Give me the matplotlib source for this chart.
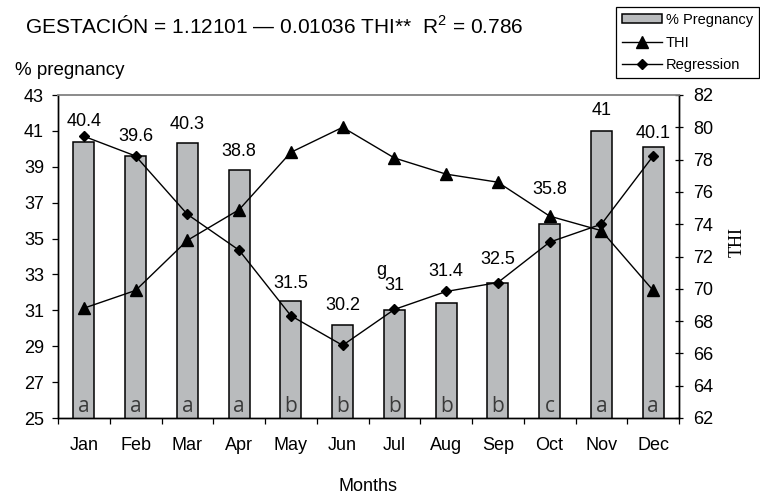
import matplotlib
matplotlib.use("Agg")
import matplotlib.pyplot as plt
import numpy as np

plt.rcParams['font.family'] = ['Liberation Sans', 'DejaVu Sans']
plt.rcParams['mathtext.fontset'] = 'custom'
plt.rcParams['mathtext.rm'] = 'Liberation Sans'
plt.rcParams['mathtext.it'] = 'Liberation Sans'

months = ['Jan', 'Feb', 'Mar', 'Apr', 'May', 'Jun', 'Jul', 'Aug', 'Sep', 'Oct', 'Nov', 'Dec']
pregnancy = [40.4, 39.6, 40.3, 38.8, 31.5, 30.2, 31.0, 31.4, 32.5, 35.8, 41.0, 40.1]
pregnancy_labels = ['40.4', '39.6', '40.3', '38.8', '31.5', '30.2', '31', '31.4', '32.5', '35.8', '41', '40.1']
thi = [68.8, 69.9, 73.0, 74.9, 78.45, 80.0, 78.1, 77.1, 76.6, 74.5, 73.6, 69.9]
regression = [40.7, 39.6, 36.35, 34.35, 30.7, 29.05, 31.05, 32.05, 32.55, 34.8, 35.8, 39.6]
letters = ['a', 'a', 'a', 'a', 'b', 'b', 'b', 'b', 'b', 'c', 'a', 'a']
left_ticks = [25, 27, 29, 31, 33, 35, 37, 39, 41, 43]
right_ticks = [62, 64, 66, 68, 70, 72, 74, 76, 78, 80, 82]

# label offsets above bar tops (points)
label_offsets = [14.4, 13.7, 13.7, 13.7, 13.0, 13.7, 18.0, 22.8, 17.3, 25.2, 14.4, 10.0]

fig = plt.figure(figsize=(7.6, 4.98), dpi=100)
L, R, T, B = 58/760, 679/760, 1-95/498, 1-418/498
ax = fig.add_axes([L, B, R-L, T-B])
ax2 = ax.twinx()

x = np.arange(len(months))
bars = ax.bar(x, pregnancy, width=0.41, bottom=0, color='#b9bbbd', edgecolor='black',
              linewidth=1.1, label='% Pregnancy', zorder=2)
reg_line, = ax.plot(x, regression, color='black', lw=1.0, marker='D', ms=5.5,
                    label='Regression', zorder=4)
thi_line, = ax2.plot(x, thi, color='black', lw=1.0, marker='^', ms=8.5,
                     label='THI', zorder=4)

ax.set_xlim(-0.5, len(months) - 0.5)
ax.set_ylim(25, 43)
ax2.set_ylim(62, 82)
ax.set_yticks(left_ticks)
ax2.set_yticks(right_ticks)

ax.set_xticks(np.arange(-0.5, len(months), 1.0))
ax.set_xticklabels([])
ax.set_xticks(x, minor=True)
ax.set_xticklabels(months, minor=True)
ax.tick_params(axis='x', which='major', length=4, width=0.9, direction='out')
ax.tick_params(axis='x', which='minor', length=0, pad=14, labelsize=13)
ax.tick_params(axis='y', length=4.5, width=0.9, direction='out', pad=5.5, labelsize=13)
ax2.tick_params(axis='y', length=6, width=0.9, direction='inout', pad=7, labelsize=13)

for a in (ax, ax2):
    a.spines['top'].set_color('#8a8a8a')
    a.spines['top'].set_linewidth(1.2)
    for s in ('left', 'right', 'bottom'):
        a.spines[s].set_linewidth(1.0)

for i, (v, lab, off) in enumerate(zip(pregnancy, pregnancy_labels, label_offsets)):
    ax.annotate(lab, xy=(x[i], v), xytext=(0, off), textcoords='offset points',
                ha='center', va='center', fontsize=13, zorder=5)
    ax.annotate(letters[i], xy=(x[i], 25), xytext=(0, 4.3), textcoords='offset points',
                ha='center', va='baseline', fontsize=15, color='#3a3a3a',
                family=['Open Sans', 'DejaVu Sans'], zorder=5)

# stray "g" above the Jul label
ax.annotate('g', xy=(x[6], pregnancy[6]), xytext=(-9.5, 28.5), textcoords='offset points',
            ha='center', va='center', fontsize=13, zorder=5)

fig.text(25/760, 1-33/498, 'GESTACIÓN = 1.12101 — 0.01036 THI**  R$^2$ = 0.786',
         fontsize=15, ha='left', va='baseline')
fig.text(15/760, 1-75/498, '% pregnancy', fontsize=13.5, ha='left', va='baseline')
fig.text(368.5/760, 1-486/498, 'Months', fontsize=13, ha='center', va='center')
fig.text(737/760, 1-242/498, 'THI', fontsize=13, rotation=90, ha='center', va='center',
         family=['Liberation Serif', 'DejaVu Serif'])

leg = fig.legend([bars, thi_line, reg_line], ['% Pregnancy', 'THI', 'Regression'],
                 loc='upper right', bbox_to_anchor=(759/760, 1-7/498),
                 bbox_transform=fig.transFigure, fontsize=10.5, frameon=True,
                 fancybox=False, edgecolor='black', framealpha=1, borderaxespad=0,
                 handlelength=2.7, handletextpad=0.3, labelspacing=0.6, borderpad=0.4,
                 handleheight=0.6)
leg.get_frame().set_linewidth(0.9)

fig.savefig('out.png', dpi=100)
